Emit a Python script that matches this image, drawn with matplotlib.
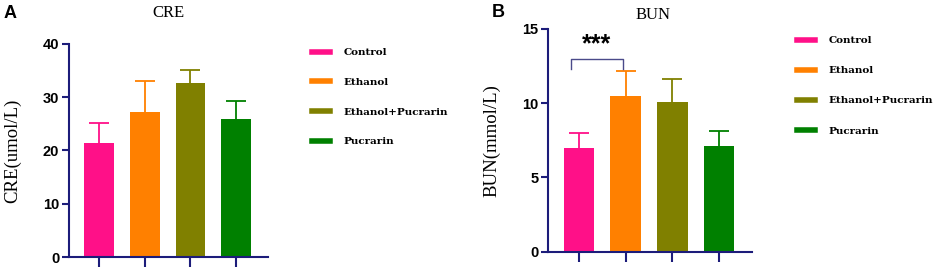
import numpy as np
import matplotlib
matplotlib.use('Agg')
import matplotlib.pyplot as plt
from matplotlib.lines import Line2D

groups = ['Control', 'Ethanol', 'Ethanol+Pucrarin', 'Pucrarin']
colors = ['#ff1088', '#ff8000', '#808000', '#008000']

cre_mean = [21.5, 27.2, 32.7, 25.9]
cre_err = [3.7, 5.8, 2.4, 3.4]

bun_mean = [7.0, 10.5, 10.05, 7.15]
bun_err = [1.0, 1.65, 1.6, 1.0]

axis_col = '#1c1c7a'
serif = ['Liberation Serif', 'DejaVu Serif']
sans = ['Liberation Sans', 'DejaVu Sans']

fig = plt.figure(figsize=(9.41, 2.70), dpi=100)
ax_a = fig.add_axes([0.0733, 0.0481, 0.2115, 0.789])
ax_b = fig.add_axes([0.5824, 0.0678, 0.2167, 0.8248])


def draw(ax, means, errs, ymax, step, ylabel, lab_x):
    x = np.arange(len(means))
    for i in range(len(means)):
        ax.bar(x[i], means[i], width=0.65, color=colors[i], zorder=2)
        eb = ax.errorbar(x[i], means[i], yerr=[[0], [errs[i]]], fmt='none',
                         ecolor=colors[i], elinewidth=1.3, capsize=7.5,
                         capthick=1.3, zorder=1)
        eb[1][0].set_visible(False)  # hide the lower cap
    ax.set_xlim(-0.66, 3.7)
    ax.set_ylim(0, ymax)
    ax.set_yticks(np.arange(0, ymax + 0.1, step))
    ax.set_xticks(x)
    ax.set_xticklabels([])
    for s in ['top', 'right']:
        ax.spines[s].set_visible(False)
    for s in ['left', 'bottom']:
        ax.spines[s].set_color(axis_col)
        ax.spines[s].set_linewidth(1.5)
    ax.tick_params(axis='y', colors=axis_col, width=1.5, length=5, pad=2,
                   labelcolor='black')
    ax.tick_params(axis='x', colors=axis_col, width=1.5, length=7)
    for lab in ax.get_yticklabels():
        lab.set_fontweight('bold')
        lab.set_fontfamily(sans)
        lab.set_fontsize(10.5)
    ax.set_ylabel(ylabel, fontsize=13.5, family=serif)
    ax.yaxis.set_label_coords(lab_x, 0.5)


draw(ax_a, cre_mean, cre_err, 40, 10, 'CRE(umol/L)', -0.24)
draw(ax_b, bun_mean, bun_err, 15, 5, 'BUN(mmol/L)', -0.235)

fig.text(0.1785, 0.952, 'CRE', fontsize=12, family=serif, ha='center', va='center')
fig.text(0.694, 0.944, 'BUN', fontsize=12, family=serif, ha='center', va='center')

# significance bracket
ax_b.plot([-0.17, -0.17, 0.94, 0.94], [12.3, 13.0, 13.0, 12.3],
          color='#4a4a8a', lw=1.0, clip_on=False)
ax_b.text(0.37, 14.0, '***', ha='center', va='center', fontsize=18,
          fontweight='bold', family=sans)

handles = [Line2D([0], [0], color=c, lw=4) for c in colors]
for anchor, sp in [((0.3316, 0.822), 1.95), ((0.8475, 0.867), 2.0)]:
    fig.legend(handles, groups, loc='upper left', bbox_to_anchor=anchor,
               frameon=False, borderpad=0, borderaxespad=0,
               handlelength=1.7, handletextpad=1.3, labelspacing=sp,
               prop={'family': 'DejaVu Serif', 'weight': 'bold', 'size': 7.5})

fig.text(0.004, 0.95, 'A', fontsize=13, fontweight='bold', family=sans, va='center')
fig.text(0.523, 0.952, 'B', fontsize=13, fontweight='bold', family=sans, va='center')

fig.savefig('out.png', dpi=100)
